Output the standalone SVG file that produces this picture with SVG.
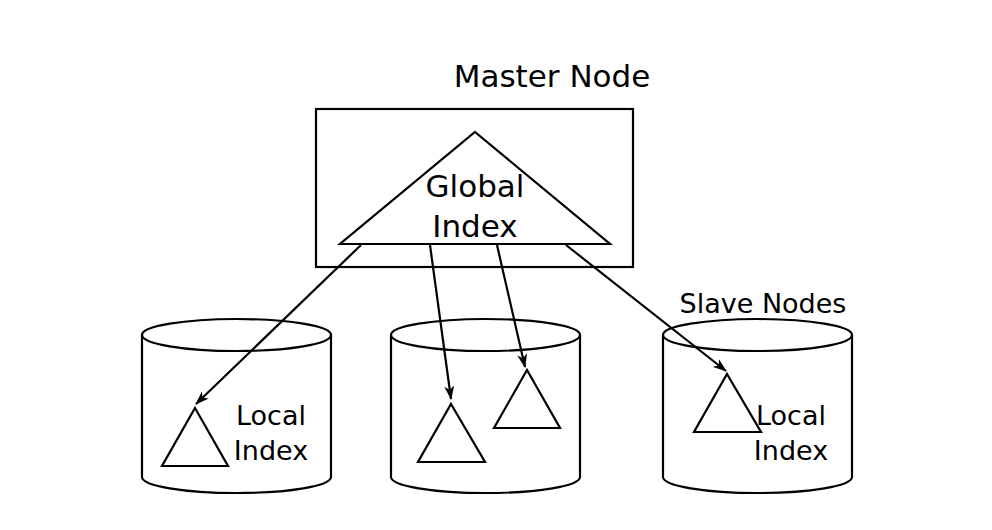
<svg xmlns="http://www.w3.org/2000/svg" width="992" height="530" viewBox="0 0 992 530">
<defs>
<style>
.s{fill:#fff;stroke:#000;stroke-width:2.2}
.t{font-family:"DejaVu Sans",Verdana,sans-serif;fill:#000;text-anchor:middle}
.big{font-size:31px}
.sm{font-size:27px}
.c{fill:none;stroke:#000;stroke-width:2.2}
</style>
<marker id="ah" viewBox="0 0 14 10" refX="13" refY="5" markerWidth="14" markerHeight="10" markerUnits="userSpaceOnUse" orient="auto">
<path d="M0,0 L14,5 L0,10 L4,5 Z" fill="#000"/>
</marker>
</defs>
<rect width="992" height="530" fill="#fff"/>
<g id="master">
<rect class="s" x="316" y="109" width="317" height="158"/>
<text class="t big" x="552" y="87">Master Node</text>
</g>
<g id="global-index">
<polygon class="s" points="475,132 610,244 340,244"/>
<text class="t big" x="475" y="197">Global</text>
<text class="t big" x="475" y="237">Index</text>
</g>
<g id="slave1">
<path class="s" d="M142,335 A94.5,16 0 0 1 331,335 L331,477 A94.5,16 0 0 1 142,477 Z"/>
<path class="c" d="M142,335 A94.5,16 0 0 0 331,335"/>
<polygon class="s" points="195,408 228,466 162,466"/>
<text class="t sm" x="271" y="425">Local</text>
<text class="t sm" x="271" y="460">Index</text>
</g>
<g id="slave2">
<path class="s" d="M391,335 A94.5,16 0 0 1 580,335 L580,477 A94.5,16 0 0 1 391,477 Z"/>
<path class="c" d="M391,335 A94.5,16 0 0 0 580,335"/>
<polygon class="s" points="451,404 485,462 418,462"/>
<polygon class="s" points="527,370 560,428 494,428"/>
</g>
<g id="slave3">
<path class="s" d="M663,335 A94.5,16 0 0 1 852,335 L852,477 A94.5,16 0 0 1 663,477 Z"/>
<path class="c" d="M663,335 A94.5,16 0 0 0 852,335"/>
<polygon class="s" points="727,374 761,432 694,432"/>
<text class="t sm" x="791" y="425">Local</text>
<text class="t sm" x="791" y="460">Index</text>
<text class="t sm" x="763" y="313">Slave Nodes</text>
</g>
<g id="connectors">
<line class="c" x1="361" y1="245" x2="196" y2="404" marker-end="url(#ah)"/>
<line class="c" x1="430" y1="245" x2="451" y2="399" marker-end="url(#ah)"/>
<line class="c" x1="497" y1="245" x2="525" y2="367" marker-end="url(#ah)"/>
<line class="c" x1="566" y1="245" x2="726" y2="371" marker-end="url(#ah)"/>
</g>
</svg>
